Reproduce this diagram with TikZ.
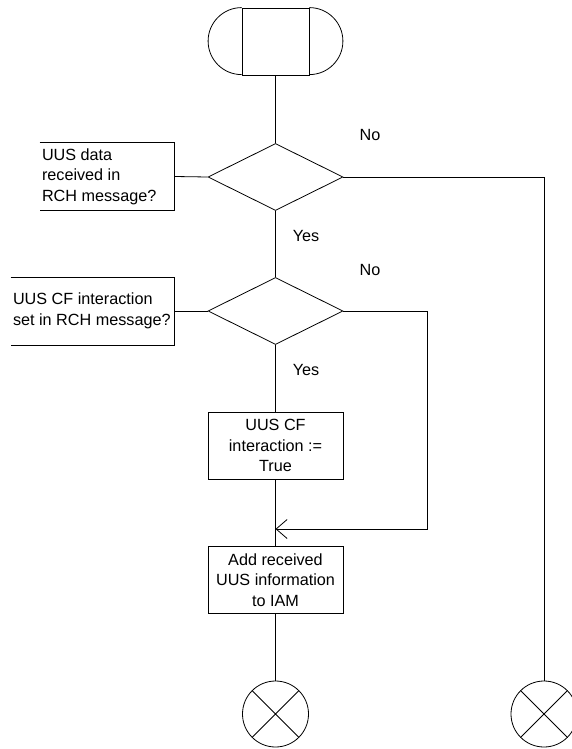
\documentclass[tikz,border=0pt]{standalone}
\usepackage{fontspec}
\setmainfont{Liberation Sans}
\usetikzlibrary{shapes.geometric,arrows.meta}
\begin{document}
\begin{tikzpicture}[x=1pt,y=-1pt,line width=0.8pt,font=\fontsize{16.2}{20.5}\selectfont,terminal/.style={shape=rectangle,draw=black,minimum width=67pt,minimum height=67pt,inner sep=0pt},decision/.style={shape=diamond,draw=black,minimum width=135pt,minimum height=67pt,inner sep=0pt},task/.style={shape=rectangle,draw=black,minimum width=135pt,minimum height=67pt,align=center,inner sep=2pt},remark/.style={shape=rectangle,minimum height=67pt,inner xsep=2pt,inner ysep=3pt,align=flush left},endpoint/.style={shape=circle,draw=black,minimum size=66pt,inner sep=0pt},flowto/.style={-{Straight Barb[length=11pt,width=19pt]}}]
\useasboundingbox (0,0) rectangle (571,749);
\node[terminal] (start) at (275.5,41.5) {};
\draw (start.north west) arc[start angle=90,end angle=270,radius=33.5pt];
\draw (start.north east) arc[start angle=90,end angle=-90,radius=33.5pt];
\node[decision] (uusdata) at (275.5,177) {};
\node[decision] (uuscf) at (275.5,311) {};
\node[task] (setcf) at (275.5,445.5) {UUS CF\\interaction :=\\True};
\node[task] (addiam) at (275.5,580) {Add received\\UUS information\\to IAM};
\node[endpoint] (stopa) at (275.5,714) {};
\node[endpoint] (stopb) at (544,714) {};
\draw (stopa.north west) -- (stopa.south east) (stopa.north east) -- (stopa.south west);
\draw (stopb.north west) -- (stopb.south east) (stopb.north east) -- (stopb.south west);
\node[remark,minimum width=134pt,text width=130pt] (askdata) at (107,176.5) {UUS data\\received in\\RCH message?};
\node[remark,minimum width=163pt,text width=159pt] (askcf) at (92.5,311) {UUS CF interaction\\set in RCH message?};
\draw (askdata.north west) -- (askdata.north east) -- (askdata.south east) -- (askdata.south west);
\draw (askcf.north west) -- (askcf.north east) -- (askcf.south east) -- (askcf.south west);
\draw (askdata.east) -- (uusdata.west);
\draw (askcf.east) -- (uuscf.west);
\node (noa) at (370,135) {No};
\node (yesa) at (306,236) {Yes};
\node (nob) at (370,270) {No};
\node (yesb) at (306,370) {Yes};
\coordinate (merge) at (275.5,529);
\draw (start) -- (uusdata);
\draw (uusdata) -- (uuscf);
\draw (uuscf) -- (setcf);
\draw (setcf) -- (addiam);
\draw (addiam) -- (stopa);
\draw (uusdata.east) -| (stopb.north);
\draw[flowto] (uuscf.east) -- ++(84,0) |- (merge);
\end{tikzpicture}
\end{document}
